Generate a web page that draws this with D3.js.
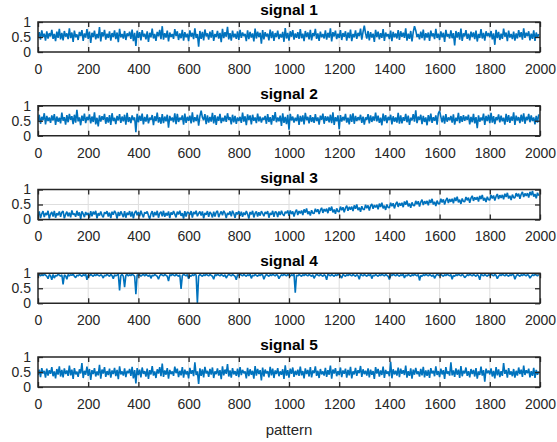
<!DOCTYPE html>
<html><head><meta charset="utf-8">
<script src="https://cdn.jsdelivr.net/npm/d3@7"></script>
<style>body{margin:0;background:#fff}svg{display:block}</style>
</head><body>
<svg id="c" width="557" height="442"></svg>
<script>
const titles = ["signal 1", "signal 2", "signal 3", "signal 4", "signal 5"];
const xTicks = [0, 200, 400, 600, 800, 1000, 1200, 1400, 1600, 1800, 2000];
const yTicks = [0, 0.5, 1];
const xLabel = "pattern";
const sampleStep = 5; // one listed value every 5 patterns (values in percent)

const signal1 = [
48,66,41,72,50,61,38,69,45,63, 52,74,44,60,36,68,47,77,42,64,
39,70,51,62,43,79,46,65,34,71, 49,59,40,67,53,73,37,62,48,76,
44,68,30,64,50,71,42,60,46,83, 35,66,52,74,41,61,47,69,38,63,
50,72,43,65,33,77,49,60,45,70, 40,62,53,68,44,75,36,64,20,71,
47,66,39,73,51,61,42,69,34,64, 49,78,45,60,37,67,52,74,43,86,
41,63,48,71,35,65,50,60,44,76, 53,69,40,62,46,74,38,66,49,61,
36,72,51,64,43,79,47,60,18,70, 44,67,39,75,52,62,41,68,48,73,
37,60,50,70,45,64,33,77,46,66, 51,84,42,63,38,71,49,61,44,69,
40,74,47,65,53,60,36,72,43,67, 48,62,35,78,45,68,50,64,28,73,
42,66,52,61,39,75,46,69,37,63, 50,71,43,60,48,67,34,80,45,64,
38,69,51,73,41,62,47,66,44,76, 46,61,36,70,50,65,42,74,39,63,
53,77,44,62,37,68,49,60,45,72, 41,64,48,79,35,66,52,71,43,61,
47,73,40,63,51,69,38,65,46,75, 36,60,49,72,44,64,53,78,41,67,
88,62,45,70,39,66,48,61,34,74, 50,68,42,63,47,76,37,65,52,60,
43,71,36,67,49,62,45,73,40,69, 51,64,47,79,38,61,44,70,35,66,
86,72,50,60,42,68,46,75,39,63, 48,65,37,71,52,62,43,77,47,61,
40,69,49,64,34,74,51,60,45,72, 46,63,22,70,48,66,41,78,37,62,
52,73,44,61,39,68,50,65,43,71, 35,60,47,76,45,64,38,69,53,63,
49,70,42,62,24,74,46,67,40,61, 44,78,51,65,36,71,48,60,43,68,
38,62,45,73,50,66,41,79,47,64, 53,69,39,61,44,72,37,65,48,60
];

const signal2 = [
46,70,40,63,52,75,38,66,49,61, 43,68,51,72,36,64,47,60,41,77,
50,62,37,69,45,73,53,65,39,70, 44,86,48,61,35,67,50,74,42,63,
52,71,41,64,46,78,38,60,31,68, 47,65,53,73,40,62,44,69,36,75,
49,60,39,66,51,72,43,64,48,70, 37,76,46,62,42,68,52,61,12,73,
45,67,50,74,38,63,47,71,41,60, 53,69,35,65,49,77,44,62,40,72,
42,64,48,70,27,66,51,61,45,75, 39,73,46,60,53,68,37,74,43,63,
50,67,41,78,45,62,49,70,34,65, 84,61,52,72,39,68,44,63,47,76,
41,69,36,64,50,73,42,60,48,67, 46,75,53,62,38,70,45,66,40,61,
49,63,43,77,47,65,35,71,52,68, 38,70,50,61,42,74,48,64,44,60,
53,66,40,72,46,62,37,69,50,79, 45,61,48,67,33,75,43,63,39,70,
20,73,51,64,44,60,49,71,36,66, 47,68,38,76,52,63,41,69,46,62,
43,72,49,61,37,67,53,74,40,65, 50,64,45,70,42,78,36,62,48,68,
22,69,47,63,51,73,44,60,38,71, 46,75,40,66,49,62,52,70,43,64,
37,61,53,72,41,68,46,64,50,77, 48,67,43,60,35,74,49,69,42,63,
52,70,38,65,47,61,44,76,40,68, 41,62,50,73,45,67,36,60,51,72,
47,85,42,64,53,70,39,66,46,61, 35,69,48,74,43,62,50,68,37,75,
83,63,45,67,40,72,47,61,52,66, 44,71,37,60,49,76,42,65,46,69,
50,64,53,70,38,63,45,73,41,62, 25,68,47,61,51,74,36,66,49,70,
42,76,44,65,39,62,52,71,45,67, 48,60,37,73,46,69,43,64,50,78,
36,67,51,62,42,70,47,75,40,63, 52,73,45,68,49,61,38,66,44,71
];

const signal3 = [
12,27,5,19,28,8,22,15,29,3, 18,25,10,29,6,21,14,27,9,24,
28,4,17,26,11,23,7,30,16,20, 9,29,13,24,2,27,19,8,25,15,
22,6,28,11,26,17,29,4,21,13, 27,14,7,24,19,28,10,23,5,26,
16,29,21,3,25,12,27,18,8,28, 6,23,15,28,10,26,4,22,29,14,
25,11,29,17,7,24,20,27,13,2, 19,28,8,25,14,29,6,21,26,11,
29,9,22,13,27,5,24,16,28,18, 7,26,17,29,12,21,3,28,10,25,
23,15,28,6,25,18,29,11,20,27, 13,27,4,22,16,28,9,25,19,7,
26,10,24,29,8,19,27,14,29,21, 5,22,16,27,11,29,20,6,24,17,
28,12,26,9,23,15,28,18,3,25, 17,29,7,21,27,10,24,13,28,20,
11,25,19,28,6,22,16,29,9,26, 24,8,27,15,29,18,12,26,21,30,
12,30,18,27,10,25,33,15,28,20, 30,15,34,23,37,18,27,13,31,21,
20,36,25,34,18,31,39,22,35,27, 36,21,40,29,43,24,33,19,37,27,
26,43,31,41,24,38,46,29,42,33, 43,28,47,36,50,31,40,26,44,34,
33,49,38,47,30,45,52,36,48,40, 49,34,53,42,56,37,46,32,50,40,
39,56,44,54,37,51,59,42,55,46, 56,41,60,49,63,44,53,39,57,47,
46,62,51,61,43,58,66,48,61,53, 62,47,66,55,69,50,59,45,63,53,
52,69,57,67,50,64,72,55,68,59, 69,54,73,62,76,57,66,52,70,60,
59,75,64,73,56,71,79,62,74,66, 75,60,79,68,82,63,72,58,76,66,
65,82,70,80,63,77,85,68,81,72, 82,67,86,75,89,70,79,65,83,73,
72,88,77,86,69,84,92,75,87,79, 88,73,92,81,95,76,85,71,89,79
];

const signal4 = [
93,96,91,95,92,97,94,90,82,95, 92,78,96,84,93,91,97,94,90,95,
63,94,92,80,96,91,95,93,97,90, 85,94,91,96,93,90,95,92,97,78,
94,91,96,93,90,95,92,97,93,91, 95,92,84,94,91,97,93,90,96,92,
82,95,91,94,97,43,92,96,90,54, 93,96,91,95,92,97,94,90,30,95,
92,95,90,94,97,91,96,93,90,95, 83,94,91,96,93,90,80,92,97,94,
91,96,93,90,74,95,92,97,94,91, 96,93,90,95,48,92,97,94,91,96,
82,93,90,95,92,97,94,0,91,96, 93,90,95,92,97,94,91,96,93,90,
80,95,92,97,94,91,96,93,90,95, 84,92,97,94,91,96,93,90,78,95,
92,97,94,91,96,93,90,95,92,97, 83,94,91,96,93,90,95,92,97,94,
80,91,96,93,90,95,92,97,94,91, 96,93,82,90,95,92,97,94,91,96,
93,90,95,92,97,35,94,91,96,93, 90,95,92,97,94,91,96,93,90,95,
83,92,97,94,91,96,93,90,95,92, 78,97,94,91,96,93,90,95,92,97,
94,91,84,96,93,90,95,92,97,94, 91,96,93,90,95,92,80,97,94,91,
96,93,90,95,92,97,82,94,91,96, 93,90,95,92,97,94,91,96,93,90,
79,95,92,97,94,91,96,93,90,95, 92,97,84,94,91,96,93,90,95,92,
97,94,91,96,76,93,90,95,92,97, 94,91,96,93,90,95,83,92,97,94,
91,96,93,90,95,92,97,94,91,96, 80,93,90,95,92,97,94,91,96,93,
85,90,95,92,97,94,91,96,93,90, 95,92,78,97,94,91,96,93,90,95,
92,97,94,91,96,93,82,90,95,92, 97,94,91,96,93,90,95,92,97,94,
80,91,96,93,90,95,92,97,94,91, 96,93,84,90,95,92,97,94,91,96
];

const signal5 = [
40,58,33,63,45,54,31,61,38,56, 44,66,36,52,29,60,41,69,35,57,
32,62,43,55,37,71,39,58,27,63, 42,51,34,59,45,80,30,54,41,68,
37,60,24,56,43,63,35,52,39,74, 28,58,45,66,34,53,40,61,31,55,
43,64,36,57,26,69,42,52,38,62, 33,54,46,60,37,67,29,56,12,63,
40,58,32,65,44,53,35,61,27,56, 42,70,38,52,30,59,45,66,36,78,
34,55,41,63,28,57,43,52,37,68, 46,61,33,54,39,66,31,58,42,53,
29,64,44,56,36,82,40,52,10,62, 37,59,32,67,45,54,34,60,41,65,
30,52,43,62,38,56,26,69,39,58, 44,76,35,55,31,63,42,53,37,61,
33,66,40,57,46,52,29,64,36,59, 41,54,28,70,38,60,43,56,22,65,
35,58,45,53,32,67,39,61,30,55, 43,63,36,52,41,59,27,72,38,56,
31,61,44,65,34,54,40,58,37,68, 39,53,29,62,43,57,35,66,32,55,
46,69,37,54,30,60,42,52,38,64, 34,56,41,71,28,58,45,63,36,53,
40,65,33,55,44,61,31,57,39,67, 29,52,42,64,37,56,46,70,34,59,
43,54,38,62,32,58,41,53,27,66, 45,60,35,55,40,68,30,57,44,52,
36,84,29,59,42,54,38,65,33,61, 44,56,40,71,31,53,37,62,28,58,
41,64,43,52,35,60,39,67,32,55, 37,57,30,63,45,54,36,69,40,53,
33,61,42,56,27,66,44,52,38,82, 39,55,34,62,41,58,30,70,36,54,
45,65,37,53,32,60,43,57,35,63, 28,52,40,68,38,56,18,61,46,55,
42,62,35,54,29,66,39,59,33,53, 37,80,44,57,31,63,41,52,36,60,
31,54,38,65,43,58,34,71,40,56, 46,61,32,53,37,64,30,57,41,52
];

const series = [signal1, signal2, signal3, signal4, signal5];

const FONT = "'Liberation Sans', Arial, Helvetica, sans-serif";
const TXT = "#262626";
const svg = d3.select("#c");
const left = 38, right = 540, ph = 30;
const tops = [22, 105.75, 189.5, 273.25, 357];
const x = d3.scaleLinear().domain([0, 2000]).range([left, right]);
const fmtX = d3.format("d");
const fmtY = d => String(d);

series.forEach((vals, k) => {
  const top = tops[k], bottom = top + ph;
  const y = d3.scaleLinear().domain([0, 1]).range([bottom, top]);
  const g = svg.append("g");

  const cid = "clip" + k;
  svg.append("clipPath").attr("id", cid).append("rect")
    .attr("x", left).attr("y", top).attr("width", right - left).attr("height", ph);

  // grid
  g.append("g").selectAll("line").data(xTicks.slice(1, -1)).join("line")
    .attr("x1", d => x(d)).attr("x2", d => x(d)).attr("y1", top).attr("y2", bottom)
    .attr("stroke", "#dedede").attr("stroke-width", 1);
  g.append("g").selectAll("line").data(yTicks.slice(1, -1)).join("line")
    .attr("x1", left).attr("x2", right).attr("y1", d => y(d)).attr("y2", d => y(d))
    .attr("stroke", "#dedede").attr("stroke-width", 1);

  // signal
  const line = d3.line().x((d, i) => x(i * sampleStep)).y(d => y(d / 100));
  g.append("path").datum(vals).attr("d", line)
    .attr("fill", "none").attr("stroke", "#0072BD").attr("stroke-width", 1.6)
    .attr("stroke-linejoin", "bevel")
    .attr("clip-path", `url(#${cid})`);

  // axes
  const style = sel => sel.attr("font-size", 14).attr("font-family", FONT).attr("color", TXT)
    .call(s => s.select(".domain").remove())
    .call(s => s.selectAll(".tick line").attr("stroke-width", 1.3));
  g.append("g").attr("transform", `translate(0,${bottom})`)
    .call(d3.axisBottom(x).tickValues(xTicks).tickFormat(fmtX).tickSizeInner(-5).tickSizeOuter(0).tickPadding(12))
    .call(style);
  g.append("g").attr("transform", `translate(0,${top})`)
    .call(d3.axisTop(x).tickValues(xTicks).tickSizeInner(-5).tickSizeOuter(0).tickFormat(""))
    .call(style);
  g.append("g").attr("transform", `translate(${left},0)`)
    .call(d3.axisLeft(y).tickValues(yTicks).tickFormat(fmtY).tickSizeInner(-5).tickSizeOuter(0).tickPadding(7))
    .call(style);
  g.append("g").attr("transform", `translate(${right},0)`)
    .call(d3.axisRight(y).tickValues(yTicks).tickSizeInner(-5).tickSizeOuter(0).tickFormat(""))
    .call(style);

  g.append("rect").attr("x", left).attr("y", top).attr("width", right - left).attr("height", ph)
    .attr("fill", "none").attr("stroke", TXT).attr("stroke-width", 1.5);

  g.append("text").attr("x", (left + right) / 2).attr("y", top - 7)
    .attr("text-anchor", "middle").attr("font-family", FONT).attr("font-weight", "bold")
    .attr("font-size", 15.5).attr("fill", "#000").text(titles[k]);
});

svg.append("text").attr("x", (left + right) / 2).attr("y", tops[4] + ph + 48)
  .attr("text-anchor", "middle").attr("font-family", FONT).attr("font-size", 15)
  .attr("fill", TXT).text(xLabel);
</script>
</body></html>
